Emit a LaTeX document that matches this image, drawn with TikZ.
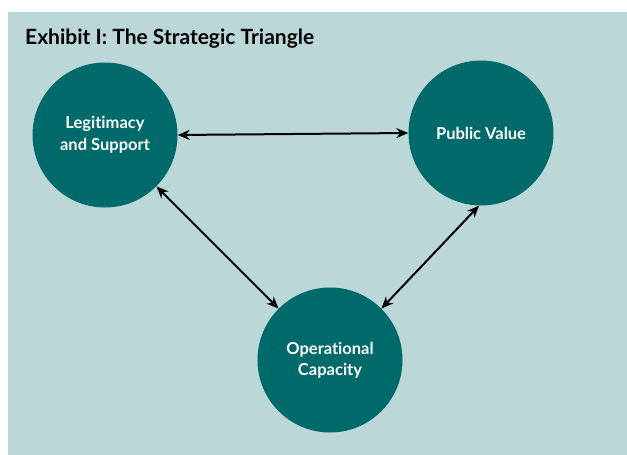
\documentclass[tikz,border=0pt]{standalone}
\usepackage{fontspec}
\setmainfont[Ligatures=NoCommon]{Lato}
\usetikzlibrary{arrows.meta}
\definecolor{panel}{HTML}{BCD7D8}
\definecolor{teal}{HTML}{006A6A}
\begin{document}
\begin{tikzpicture}[x=1pt,y=-1pt,
  hub/.style={circle,fill=teal,minimum size=145pt,inner sep=0pt,text=white,
    font=\bfseries\fontsize{16.5}{21.5}\selectfont,align=center},
  link/.style={line width=2pt,{Stealth[length=12pt,width=10pt]}-{Stealth[length=12pt,width=10pt]}}]
\useasboundingbox (0,0) rectangle (627,455);
\fill[white] (0,0) rectangle (627,455);
\fill[panel] (8,12) rectangle (627,455);
\node[anchor=base west,inner sep=0pt,font=\bfseries\fontsize{21}{24}\selectfont] (title) at (25,44) {Exhibit I: The Strategic Triangle};
\node[hub] (legit) at (105,135) {Legitimacy\\and Support};
\node[hub] (value) at (481,133) {Public Value};
\node[hub] (ops) at (330,360) {Operational\\Capacity};
\draw[link] (legit.east) -- (value.west);
\draw[link] (legit.-45) -- (ops.135);
\coordinate (vb) at ([xshift=-2pt]value.south);
\draw[link] (vb) -- (ops.45);
\end{tikzpicture}
\end{document}
